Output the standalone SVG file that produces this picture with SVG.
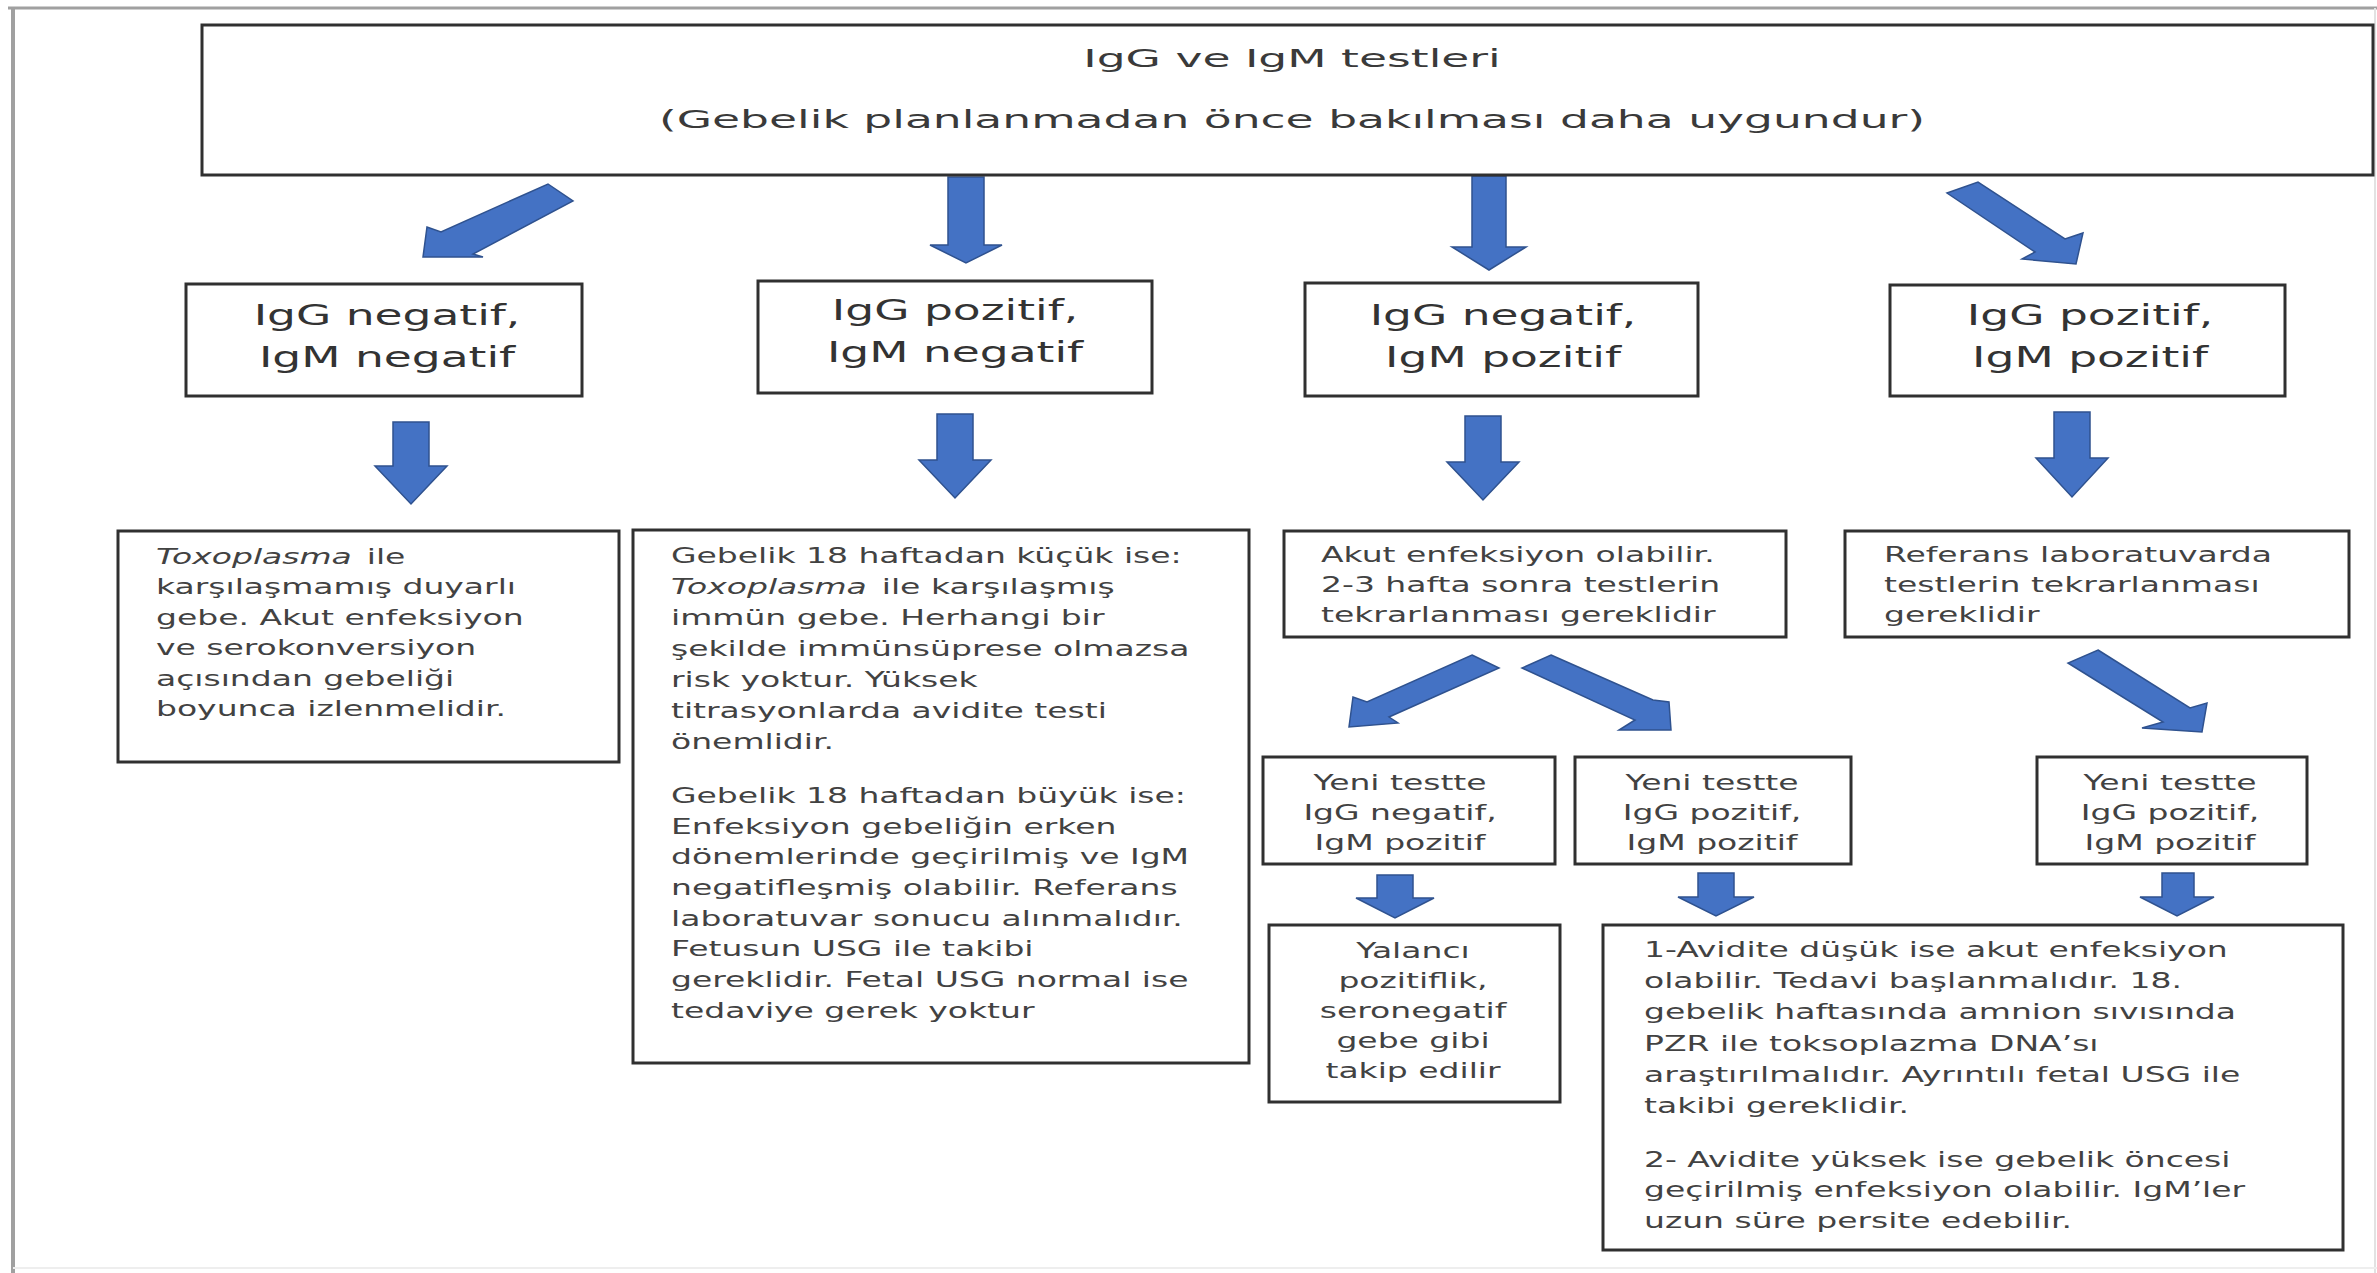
<svg xmlns="http://www.w3.org/2000/svg" width="2377" height="1273" viewBox="0 0 2377 1273">
<style>
.box{fill:#ffffff;stroke:#303030;stroke-width:3}
.arrow{fill:#4472c4;stroke:#2f528f;stroke-width:1.5;stroke-linejoin:miter}
.t{font-family:"DejaVu Sans","Liberation Sans",sans-serif;fill:#3a3a3a}
.top{font-size:24px;text-anchor:middle}
.h{font-size:29px;text-anchor:middle;fill:#333333}
.b{font-size:22px;fill:#424242}
.c{font-size:22px;fill:#424242;text-anchor:middle}
.i{font-style:italic}
</style>
<rect x="0" y="0" width="2377" height="1273" fill="#ffffff"/>
<g id="frame">
<line x1="8" y1="8" x2="2377" y2="8" stroke="#a0a0a0" stroke-width="3"/>
<line x1="13" y1="8" x2="13" y2="1273" stroke="#a0a0a0" stroke-width="4"/>
<line x1="2375" y1="8" x2="2375" y2="1273" stroke="#e2e2e2" stroke-width="2"/>
<line x1="13" y1="1268" x2="2377" y2="1268" stroke="#eeeeee" stroke-width="2"/>
</g>

<g id="connectors">
<polygon class="arrow" points="548,184 573,201 473,254 483,257 423,257 427,227 441,232"/>
<path class="arrow" d="M948,177 L984,177 L984,245 L1002,245 L966,263 L930,245 L948,245 Z"/>
<path class="arrow" d="M1472,176 L1506,176 L1506,247 L1526,247 L1489,270 L1452,247 L1472,247 Z"/>
<polygon class="arrow" points="1947,193 1978,182 2065,239 2083,233 2076,264 2022,259 2035,252"/>

<path class="arrow" d="M393,422 L429,422 L429,466 L447,466 L411,504 L375,466 L393,466 Z"/>
<path class="arrow" d="M937,414 L973,414 L973,460 L991,460 L955,498 L919,460 L937,460 Z"/>
<path class="arrow" d="M1465,416 L1501,416 L1501,462 L1519,462 L1483,500 L1447,462 L1465,462 Z"/>
<path class="arrow" d="M2054,412 L2090,412 L2090,458 L2108,458 L2072,497 L2036,458 L2054,458 Z"/>

<polygon class="arrow" points="1472,655 1499,668 1389,717 1398,723 1349,727 1353,697 1367,702"/>
<polygon class="arrow" points="1551,655 1653,700 1669,702 1671,730 1619,730 1635,720 1522,668"/>
<polygon class="arrow" points="2098,650 2190,708 2207,703 2202,732 2142,728 2163,722 2068,663"/>

<path class="arrow" d="M1377,875 L1413,875 L1413,898 L1434,898 L1395,918 L1356,898 L1377,898 Z"/>
<path class="arrow" d="M1698,873 L1734,873 L1734,897 L1754,897 L1716,916 L1678,897 L1698,897 Z"/>
<path class="arrow" d="M2162,873 L2194,873 L2194,897 L2214,897 L2177,916 L2140,897 L2162,897 Z"/>
</g>

<g id="n-top">
<rect class="box" x="202" y="25" width="2171" height="150"/>
<text class="t top" transform="translate(1292 67) scale(1.9 1)"><tspan x="0">IgG ve IgM testleri</tspan><tspan x="0" dy="61">(Gebelik planlanmadan önce bakılması daha uygundur)</tspan></text>
</g>

<g id="n-gneg-mneg">
<rect class="box" x="186" y="284" width="396" height="112"/>
<text class="t h" transform="translate(387 325) scale(1.57 1)"><tspan x="0">IgG negatif,</tspan><tspan x="0" dy="42">IgM negatif</tspan></text>
</g>
<g id="n-gpos-mneg">
<rect class="box" x="758" y="281" width="394" height="112"/>
<text class="t h" transform="translate(955 320) scale(1.57 1)"><tspan x="0">IgG pozitif,</tspan><tspan x="0" dy="42">IgM negatif</tspan></text>
</g>
<g id="n-gneg-mpos">
<rect class="box" x="1305" y="283" width="393" height="113"/>
<text class="t h" transform="translate(1503 325) scale(1.57 1)"><tspan x="0">IgG negatif,</tspan><tspan x="0" dy="42">IgM pozitif</tspan></text>
</g>
<g id="n-gpos-mpos">
<rect class="box" x="1890" y="285" width="395" height="111"/>
<text class="t h" transform="translate(2090 325) scale(1.57 1)"><tspan x="0">IgG pozitif,</tspan><tspan x="0" dy="42">IgM pozitif</tspan></text>
</g>

<g id="n-duyarli">
<rect class="box" x="118" y="531" width="501" height="231"/>
<text class="t b" transform="translate(156 564) scale(1.5 1)"><tspan x="0" class="i">Toxoplasma</tspan><tspan dx="10">ile</tspan><tspan x="0" dy="30.5">karşılaşmamış duyarlı</tspan><tspan x="0" dy="30.5">gebe. Akut enfeksiyon</tspan><tspan x="0" dy="30.5">ve serokonversiyon</tspan><tspan x="0" dy="30.5">açısından gebeliği</tspan><tspan x="0" dy="30.5">boyunca izlenmelidir.</tspan></text>
</g>

<g id="n-immun">
<rect class="box" x="633" y="530" width="616" height="533"/>
<text class="t b" transform="translate(671 563) scale(1.5 1)"><tspan x="0">Gebelik 18 haftadan küçük ise:</tspan><tspan x="0" dy="31" class="i">Toxoplasma</tspan><tspan dx="10">ile karşılaşmış</tspan><tspan x="0" dy="31">immün gebe. Herhangi bir</tspan><tspan x="0" dy="31">şekilde immünsüprese olmazsa</tspan><tspan x="0" dy="31">risk yoktur. Yüksek</tspan><tspan x="0" dy="31">titrasyonlarda avidite testi</tspan><tspan x="0" dy="31">önemlidir.</tspan><tspan x="0" dy="54">Gebelik 18 haftadan büyük ise:</tspan><tspan x="0" dy="30.7">Enfeksiyon gebeliğin erken</tspan><tspan x="0" dy="30.7">dönemlerinde geçirilmiş ve IgM</tspan><tspan x="0" dy="30.7">negatifleşmiş olabilir. Referans</tspan><tspan x="0" dy="30.7">laboratuvar sonucu alınmalıdır.</tspan><tspan x="0" dy="30.7">Fetusun USG ile takibi</tspan><tspan x="0" dy="30.7">gereklidir. Fetal USG normal ise</tspan><tspan x="0" dy="30.7">tedaviye gerek yoktur</tspan></text>
</g>

<g id="n-akut">
<rect class="box" x="1284" y="531" width="502" height="106"/>
<text class="t b" transform="translate(1321 562) scale(1.5 1)"><tspan x="0">Akut enfeksiyon olabilir.</tspan><tspan x="0" dy="30">2-3 hafta sonra testlerin</tspan><tspan x="0" dy="30">tekrarlanması gereklidir</tspan></text>
</g>

<g id="n-referans">
<rect class="box" x="1845" y="531" width="504" height="106"/>
<text class="t b" transform="translate(1884 562) scale(1.5 1)"><tspan x="0">Referans laboratuvarda</tspan><tspan x="0" dy="30">testlerin tekrarlanması</tspan><tspan x="0" dy="30">gereklidir</tspan></text>
</g>

<g id="n-yeni-neg">
<rect class="box" x="1263" y="757" width="292" height="107"/>
<text class="t c" transform="translate(1400 790) scale(1.5 1)"><tspan x="0">Yeni testte</tspan><tspan x="0" dy="30">IgG negatif,</tspan><tspan x="0" dy="30">IgM pozitif</tspan></text>
</g>
<g id="n-yeni-pos1">
<rect class="box" x="1575" y="757" width="276" height="107"/>
<text class="t c" transform="translate(1712 790) scale(1.5 1)"><tspan x="0">Yeni testte</tspan><tspan x="0" dy="30">IgG pozitif,</tspan><tspan x="0" dy="30">IgM pozitif</tspan></text>
</g>
<g id="n-yeni-pos2">
<rect class="box" x="2037" y="757" width="270" height="107"/>
<text class="t c" transform="translate(2170 790) scale(1.5 1)"><tspan x="0">Yeni testte</tspan><tspan x="0" dy="30">IgG pozitif,</tspan><tspan x="0" dy="30">IgM pozitif</tspan></text>
</g>

<g id="n-yalanci">
<rect class="box" x="1269" y="925" width="291" height="177"/>
<text class="t c" transform="translate(1413 958) scale(1.5 1)"><tspan x="0">Yalancı</tspan><tspan x="0" dy="30">pozitiflik,</tspan><tspan x="0" dy="30">seronegatif</tspan><tspan x="0" dy="30">gebe gibi</tspan><tspan x="0" dy="30">takip edilir</tspan></text>
</g>

<g id="n-avidite">
<rect class="box" x="1603" y="925" width="740" height="325"/>
<text class="t b" transform="translate(1644 957) scale(1.5 1)"><tspan x="0">1-Avidite düşük ise akut enfeksiyon</tspan><tspan x="0" dy="31.2">olabilir. Tedavi başlanmalıdır. 18.</tspan><tspan x="0" dy="31.2">gebelik haftasında amnion sıvısında</tspan><tspan x="0" dy="31.2">PZR ile toksoplazma DNA’sı</tspan><tspan x="0" dy="31.2">araştırılmalıdır. Ayrıntılı fetal USG ile</tspan><tspan x="0" dy="31.2">takibi gereklidir.</tspan><tspan x="0" dy="54">2- Avidite yüksek ise gebelik öncesi</tspan><tspan x="0" dy="30.5">geçirilmiş enfeksiyon olabilir. IgM’ler</tspan><tspan x="0" dy="30.5">uzun süre persite edebilir.</tspan></text>
</g>
</svg>
